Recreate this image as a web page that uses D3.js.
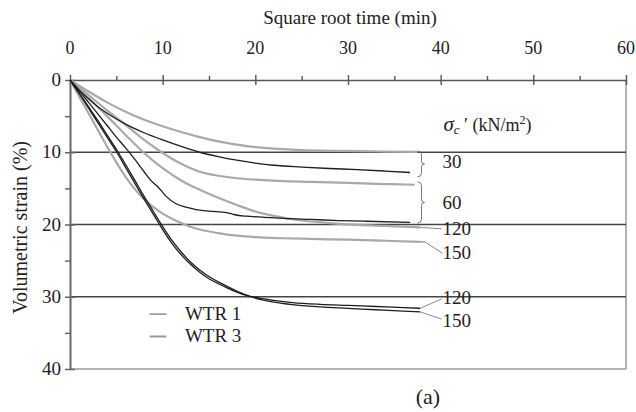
<!DOCTYPE html>
<html><head><meta charset="utf-8">
<script src="https://cdn.jsdelivr.net/npm/d3@7"></script>
<style>
html,body{margin:0;padding:0;background:#fff;}
svg{display:block;}
</style></head>
<body>
<script>
// ---- data (x = square root time, y = volumetric strain %) ----
const xTicks = [0,10,20,30,40,50,60];
const yTicks = [0,10,20,30,40];
const gridValues = [10,20,30];

// WTR 1 (black thin)
const wtr1_30 = [[0,0],[1,1.4],[2,2.6],[3,3.7],[4,4.6],[6,6.1],[8,7.3],[10,8.3],[12,9.2],[14,10.0],[16,10.6],[18,11.1],[20,11.5],[22,11.8],[25,12.05],[28,12.25],[31,12.4],[34,12.6],[36.7,12.8]];
const wtr1_60 = [[0,0],[1,1.5],[2,3.1],[3,4.7],[4,6.3],[5,7.9],[6,9.4],[7,11.0],[8,12.7],[8.8,14.0],[9.5,14.8],[10.3,16.0],[11.4,17.1],[12.5,17.6],[13.5,17.9],[15,18.15],[16.9,18.35],[17.8,18.65],[19,18.85],[21,19.0],[23,19.15],[26,19.3],[29,19.45],[32,19.55],[36.7,19.7]];
const wtr1_120 = [[0,0],[1,1.9],[2,3.9],[3,5.9],[4,7.9],[5,9.9],[6,12.1],[7,14.3],[8,16.5],[9,18.6],[10,20.7],[11,22.6],[12,24.2],[13,25.5],[14,26.6],[15,27.5],[16,28.2],[17,28.8],[18,29.35],[19,29.8],[20,30.1],[22,30.5],[24,30.8],[27,31.05],[30,31.2],[33,31.35],[36,31.5],[37.8,31.6]];
const wtr1_150 = [[0,0],[1,1.8],[2,3.7],[3,5.6],[4,7.6],[5,9.6],[6,11.7],[7,13.9],[8,16.1],[9,18.2],[10,20.3],[11,22.2],[12,23.8],[13,25.2],[14,26.3],[15,27.2],[16,27.95],[17,28.6],[18,29.2],[19,29.75],[20,30.2],[22,30.75],[24,31.1],[27,31.4],[30,31.6],[33,31.8],[36,32.0],[37.8,32.1]];

// WTR 3 (grey thick)
const wtr3_30 = [[0,0],[2,1.6],[4,3.1],[6,4.4],[8,5.5],[10,6.4],[12,7.2],[14,7.9],[16,8.5],[18,8.95],[20,9.3],[22,9.5],[25,9.7],[28,9.8],[31,9.85],[34,9.9],[37.5,9.95]];
const wtr3_60 = [[0,0],[2,2.1],[4,4.2],[6,6.2],[8,8.3],[10,10.1],[12,11.6],[14,12.7],[16,13.25],[18,13.6],[20,13.8],[23,14.0],[26,14.1],[30,14.25],[34,14.4],[37.2,14.5]];
const wtr3_120 = [[0,0],[2,2.5],[4,5.0],[6,7.6],[8,10.1],[10,12.2],[12,13.9],[14,15.2],[16,16.3],[18,17.3],[20,18.2],[22,18.8],[25,19.45],[28,19.8],[31,20.05],[34,20.2],[37.8,20.4]];
const wtr3_150 = [[0,0],[1,2.3],[2,4.6],[3,6.9],[4,9.2],[5,11.4],[6,13.4],[7,15.1],[8,16.5],[9,17.6],[10,18.5],[11,19.2],[12,19.8],[13,20.3],[14,20.7],[16,21.2],[18,21.55],[20,21.75],[23,21.9],[26,22.0],[30,22.1],[34,22.25],[37.8,22.4]];

const seriesNames = ["WTR 1","WTR 3"];
const stressLabels = ["30","60","120","150","120","150"];
const xTitle = "Square root time (min)";
const yTitle = "Volumetric strain (%)";
const caption = "(a)";

// ---- drawing ----
const FONT = "'Liberation Serif','DejaVu Serif','Times New Roman',Times,serif";
const W = 636, H = 412;
const x = d3.scaleLinear().domain([0,60]).range([70,626]);
const y = d3.scaleLinear().domain([0,40]).range([80,369]);

const svg = d3.select("body").append("svg").attr("width",W).attr("height",H)
  .attr("font-family",FONT).style("font-family",FONT);

// frame right / bottom (light grey)
svg.append("line").attr("x1",x(60)).attr("x2",x(60)).attr("y1",y(0)).attr("y2",y(40)).attr("stroke","#9a9a9a").attr("stroke-width",1.5);
svg.append("line").attr("x1",x(0)).attr("x2",x(60)).attr("y1",y(40)).attr("y2",y(40)).attr("stroke","#9a9a9a").attr("stroke-width",1.5);

// gridlines
svg.selectAll(".grid").data(gridValues).join("line")
  .attr("x1",x(0)).attr("x2",x(60)).attr("y1",d=>y(d)).attr("y2",d=>y(d))
  .attr("stroke","#444").attr("stroke-width",1.4);

function txt(sel){ return sel.attr("font-family",FONT).attr("fill","#222"); }

// top axis
const topAxis = svg.append("g").attr("transform",`translate(0,${y(0)})`)
  .call(d3.axisTop(x).tickValues(d3.range(0,61,5)).tickSize(0).tickFormat(""));
topAxis.select(".domain").attr("stroke","#555").attr("stroke-width",1.5);
topAxis.selectAll(".tick line").remove();
topAxis.selectAll(".tick").append("line")
  .attr("y1",d=>d%10===0?5:0).attr("y2",d=>d%10===0?-5:-4)
  .attr("stroke","#555").attr("stroke-width",1.4);
txt(svg.selectAll(".xlab").data(xTicks).join("text"))
  .attr("x",d=>x(d)).attr("y",54).attr("text-anchor","middle")
  .attr("font-size",18).text(d=>d);
txt(svg.append("text")).attr("x",(x(0)+x(60))/2+2).attr("y",24).attr("text-anchor","middle")
  .attr("font-size",19).text(xTitle);

// left axis
const leftAxis = svg.append("g").attr("transform",`translate(${x(0)},0)`)
  .call(d3.axisLeft(y).tickValues(d3.range(0,41,5)).tickSize(0).tickFormat(""));
leftAxis.select(".domain").attr("stroke","#666").attr("stroke-width",2);
leftAxis.selectAll(".tick line").remove();
leftAxis.selectAll(".tick").append("line")
  .attr("x1",-5).attr("x2",d=>d%10===0?5:0)
  .attr("stroke","#666").attr("stroke-width",1.5);
txt(svg.selectAll(".ylab").data(yTicks).join("text"))
  .attr("x",61).attr("y",d=>y(d)+6).attr("text-anchor","end")
  .attr("font-size",19).text(d=>d);
txt(svg.append("text")).attr("transform",`translate(27,${(y(0)+y(40))/2+3}) rotate(-90)`)
  .attr("text-anchor","middle").attr("font-size",20).text(yTitle);

// curves
const line = d3.line().x(d=>x(d[0])).y(d=>y(d[1])).curve(d3.curveMonotoneX);
const grey = [wtr3_30,wtr3_60,wtr3_120,wtr3_150];
const black = [wtr1_30,wtr1_60,wtr1_120,wtr1_150];
svg.selectAll(".g3").data(grey).join("path").attr("d",line)
  .attr("fill","none").attr("stroke","#a9a9a9").attr("stroke-width",2.2);
svg.selectAll(".g1").data(black).join("path").attr("d",line)
  .attr("fill","none").attr("stroke","#1e1e1e").attr("stroke-width",1.3);

// stress header
const hdr = txt(svg.append("text")).attr("x",x(40.3)).attr("y",y(7.0)).attr("font-size",18);
hdr.append("tspan").attr("font-style","italic").attr("font-size",21).text("σ");
hdr.append("tspan").attr("font-style","italic").attr("font-size",13).attr("dy",3).text("c");
hdr.append("tspan").attr("dy",-3).attr("font-size",18).text(" \u2032  (kN/m");
hdr.append("tspan").attr("font-size",12).attr("dy",-7).text("2");
hdr.append("tspan").attr("dy",7).text(")");

// braces
function brace(x0, y0, y1){
  const m = (y0+y1)/2, w = 4;
  return `M${x0},${y0} Q${x0+w},${y0} ${x0+w},${y0+4} L${x0+w},${m-3} Q${x0+w},${m} ${x0+w+3},${m} Q${x0+w},${m} ${x0+w},${m+3} L${x0+w},${y1-4} Q${x0+w},${y1} ${x0},${y1}`;
}
svg.append("path").attr("d",brace(x(37.5),y(9.8),y(13.4))).attr("fill","none").attr("stroke","#777").attr("stroke-width",1);
svg.append("path").attr("d",brace(x(37.5),y(14.1),y(19.8))).attr("fill","none").attr("stroke","#777").attr("stroke-width",1);

// labels and leaders
const labX = x(40.2);
const labY = [11.4, 17.0, 20.6, 24.0, 30.2, 33.3];
txt(svg.selectAll(".slab").data(stressLabels).join("text"))
  .attr("x",labX).attr("y",(d,i)=>y(labY[i])+6).attr("font-size",19).text(d=>d);

function leader(pt, tx, ty, col){
  svg.append("line").attr("x1",x(pt[0])).attr("y1",y(pt[1])).attr("x2",x(tx)).attr("y2",y(ty))
    .attr("stroke",col).attr("stroke-width",1);
}
const last = a => a[a.length-1];
leader(last(wtr3_120), 40.1, 20.6, "#888");
leader([last(wtr3_150)[0]+0.5,last(wtr3_150)[1]], 40.2, 24.0, "#888");
svg.append("line").attr("x1",x(last(wtr3_150)[0])).attr("y1",y(last(wtr3_150)[1])).attr("x2",x(last(wtr3_150)[0]+0.5)).attr("y2",y(last(wtr3_150)[1])).attr("stroke","#999").attr("stroke-width",1.5);
leader(last(wtr1_120), 40.1, 30.3, "#888");
leader(last(wtr1_150), 40.1, 33.1, "#888");

// legend
const legY = [32.4, 35.5];
svg.append("line").attr("x1",x(8.6)).attr("x2",x(10.4)).attr("y1",y(legY[0])).attr("y2",y(legY[0])).attr("stroke","#555").attr("stroke-width",1);
svg.append("line").attr("x1",x(8.6)).attr("x2",x(10.4)).attr("y1",y(legY[1])).attr("y2",y(legY[1])).attr("stroke","#999").attr("stroke-width",2);
txt(svg.selectAll(".leg").data(seriesNames).join("text"))
  .attr("x",x(12.4)).attr("y",(d,i)=>y(legY[i])+6).attr("font-size",19).text(d=>d);

// caption
txt(svg.append("text")).attr("x",428).attr("y",404).attr("text-anchor","middle").attr("font-size",22).text(caption);
</script>
</body></html>
